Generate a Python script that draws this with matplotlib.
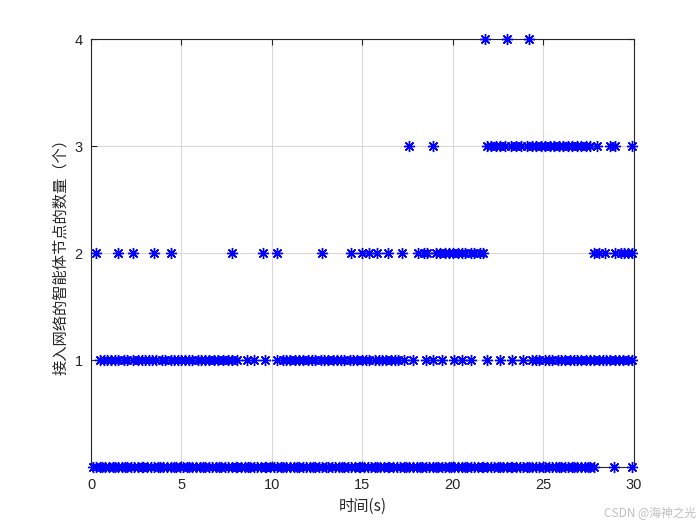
import matplotlib.pyplot as plt

plt.rcParams['font.family'] = ['Liberation Sans', 'Noto Sans CJK SC', 'DejaVu Sans']

# time points (s) at which each node count was observed
t_n0 = [0.1, 0.3, 0.5, 0.6, 0.8, 1.0, 1.2, 1.3, 1.5, 1.7, 1.9, 2.0, 2.2, 2.4, 2.6, 2.8, 2.9, 3.1, 3.3,
        3.5, 3.7, 3.8, 4.0, 4.2, 4.4, 4.6, 4.7, 4.9, 5.1, 5.3, 5.4, 5.6, 5.8, 6.0, 6.2, 6.3, 6.5, 6.7,
        6.9, 7.1, 7.2, 7.4, 7.6, 7.8, 8.0, 8.1, 8.3, 8.5, 8.7, 8.8, 9.0, 9.2, 9.4, 9.6, 9.7, 9.9, 10.1,
        10.3, 10.5, 10.6, 10.8, 11.0, 11.2, 11.4, 11.5, 11.7, 11.9, 12.1, 12.3, 12.4, 12.6, 12.8, 13.0,
        13.1, 13.3, 13.5, 13.7, 13.9, 14.0, 14.2, 14.4, 14.6, 14.8, 14.9, 15.1, 15.3, 15.5, 15.7, 15.8,
        16.0, 16.2, 16.4, 16.5, 16.7, 16.9, 17.1, 17.3, 17.4, 17.6, 17.8, 18.0, 18.2, 18.3, 18.5, 18.7,
        18.9, 19.1, 19.2, 19.4, 19.6, 19.8, 19.9, 20.1, 20.3, 20.5, 20.7, 20.8, 21.0, 21.2, 21.4, 21.6,
        21.7, 21.9, 22.1, 22.3, 22.5, 22.6, 22.8, 23.0, 23.2, 23.3, 23.5, 23.7, 23.9, 24.1, 24.2, 24.4,
        24.6, 24.8, 25.0, 25.1, 25.3, 25.5, 25.7, 25.9, 26.0, 26.2, 26.4, 26.6, 26.7, 26.9, 27.1, 27.3,
        27.5, 27.6, 27.8, 28.9, 29.9]
t_n1 = [0.5, 0.7, 0.9, 1.1, 1.3, 1.5, 1.8, 2.0, 2.3, 2.6, 2.8, 3.0, 3.2, 3.4, 3.6, 3.9, 4.1, 4.4, 4.6,
        4.8, 5.0, 5.2, 5.4, 5.6, 5.9, 6.1, 6.3, 6.5, 6.8, 7.0, 7.3, 7.6, 7.8, 8.1, 8.6, 9.0, 9.6, 10.3,
        10.6, 10.8, 11.0, 11.3, 11.5, 11.7, 12.0, 12.2, 12.4, 12.7, 12.9, 13.1, 13.4, 13.6, 13.8, 14.0,
        14.3, 14.5, 14.7, 15.0, 15.2, 15.4, 15.7, 15.9, 16.1, 16.3, 16.6, 16.8, 17.0, 17.3, 17.8, 18.5,
        18.9, 19.4, 20.1, 20.5, 21.0, 21.9, 22.6, 23.3, 23.9, 24.4, 24.6, 24.8, 25.1, 25.3, 25.5, 25.8,
        26.0, 26.2, 26.5, 26.7, 26.9, 27.1, 27.4, 27.6, 27.8, 28.1, 28.3, 28.5, 28.7, 29.0, 29.2, 29.4,
        29.7, 29.9]
t_n2 = [0.3, 1.5, 2.3, 3.5, 4.4, 7.8, 9.5, 10.3, 12.8, 14.4, 15.0, 15.4, 15.8, 16.4, 17.2, 18.1, 18.4,
        18.6, 19.1, 19.3, 19.6, 19.8, 20.0, 20.3, 20.5, 20.7, 21.0, 21.2, 21.5, 21.7, 27.8, 28.1, 28.4,
        29.0, 29.3, 29.5, 29.7, 29.9]
t_n3 = [17.6, 18.9, 21.9, 22.1, 22.4, 22.6, 22.9, 23.2, 23.5, 23.8, 24.1, 24.4, 24.6, 24.9, 25.1, 25.4,
        25.6, 25.9, 26.1, 26.4, 26.6, 26.9, 27.1, 27.4, 27.6, 28.0, 28.7, 29.0, 29.9]
t_n4 = [21.8, 23.0, 24.2]

times = t_n0 + t_n1 + t_n2 + t_n3 + t_n4
counts = [0] * len(t_n0) + [1] * len(t_n1) + [2] * len(t_n2) + [3] * len(t_n3) + [4] * len(t_n4)

fig = plt.figure(figsize=(7, 5.25), dpi=100)
ax = fig.add_axes([0.13, 0.11, 0.775, 0.815])
ax.plot(times, counts, linestyle='none', marker=(8, 2, 0), markersize=8,
        markeredgewidth=1.0, color='blue', clip_on=False, zorder=3)

ax.set_xlim(0, 30)
ax.set_ylim(0, 4)
ax.set_xticks([0, 5, 10, 15, 20, 25, 30])
ax.set_yticks([1, 2, 3, 4])
ax.grid(True, color='#d9d9d9', linewidth=0.8)
ax.set_axisbelow(True)
for s in ax.spines.values():
    s.set_color('#262626')
    s.set_linewidth(0.8)
ax.tick_params(direction='in', length=4, top=True, right=True, colors='#262626', labelsize=10.5)
ax.tick_params(axis='x', pad=8)
ax.tick_params(axis='y', pad=6)

ax.set_xlabel('时间(s)', fontsize=11, color='#262626', labelpad=4,
              family=['Noto Sans CJK SC', 'DejaVu Sans'])
ax.set_ylabel('接入网络的智能体节点的数量（个）', fontsize=11, color='#262626',
              family=['Noto Sans CJK SC', 'DejaVu Sans'])

fig.text(0.995, 0.01, 'CSDN @海神之光', ha='right', va='bottom', fontsize=8.5, color='#c0c0c0',
         family=['Noto Sans CJK SC', 'DejaVu Sans'])

fig.savefig('out.png', dpi=100, facecolor='white')
